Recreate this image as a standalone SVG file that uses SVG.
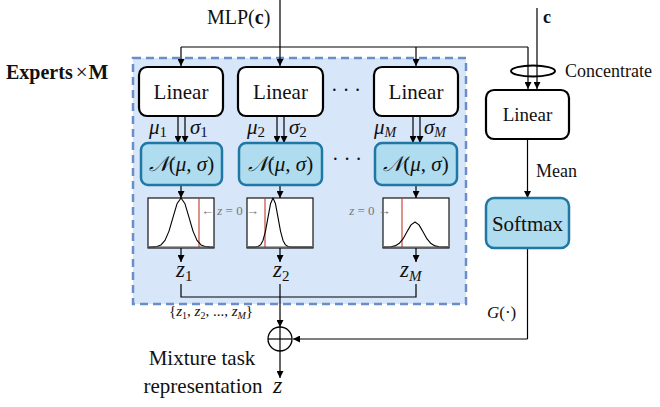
<svg xmlns="http://www.w3.org/2000/svg" width="660" height="407" viewBox="0 0 660 407">
<defs>
<marker id="ah" viewBox="0 0 10 10" refX="10" refY="5" markerWidth="7" markerHeight="7" markerUnits="userSpaceOnUse" orient="auto">
<path d="M0,0 L10,5 L0,10 z" fill="#000"/>
</marker>
<style>
.t{font-family:"Liberation Serif","Times New Roman",serif;fill:#111}
.m{font-family:"Liberation Serif","Times New Roman",serif;font-style:italic;fill:#111}
.lin{fill:#fff;stroke:#000;stroke-width:2.2}
.nb{fill:#afdcee;stroke:#1f77a3;stroke-width:2.5}
.c{fill:none;stroke:#000;stroke-width:1.2}
.a{fill:none;stroke:#000;stroke-width:1.2;marker-end:url(#ah)}
.pl{fill:#fff;stroke:#000;stroke-width:1.1}
.g{fill:none;stroke:#000;stroke-width:1.1;stroke-linejoin:round}
.red{stroke:#c0392b;stroke-width:1.1}
.gl{font-family:"Liberation Serif","Times New Roman",serif;fill:#777;font-size:13px}
</style>
</defs>

<g id="experts-panel">
<rect x="133" y="58" width="333" height="246" fill="#d7e6f8" stroke="#6a8fc8" stroke-width="2.5" stroke-dasharray="8,5"/>
<text class="t" x="6" y="79" font-size="20" font-weight="bold">Experts<tspan dx="3" font-weight="normal" font-size="21">×</tspan><tspan dx="1" font-size="21">M</tspan></text>
</g>

<g id="connectors">
<line class="c" x1="280" y1="0" x2="280" y2="47"/>
<path class="c" d="M181,47 H528"/>
<line class="a" x1="181" y1="47" x2="181" y2="66"/>
<line class="a" x1="280" y1="47" x2="280" y2="66"/>
<line class="a" x1="416" y1="47" x2="416" y2="66"/>
<line class="a" x1="528" y1="47" x2="528" y2="89"/>
<line class="a" x1="537" y1="8" x2="537" y2="89"/>
<line class="a" x1="178" y1="117" x2="178" y2="143"/>
<line class="a" x1="185" y1="117" x2="185" y2="143"/>
<line class="a" x1="277" y1="117" x2="277" y2="143"/>
<line class="a" x1="284" y1="117" x2="284" y2="143"/>
<line class="a" x1="413" y1="117" x2="413" y2="143"/>
<line class="a" x1="420" y1="117" x2="420" y2="143"/>
<line class="a" x1="181" y1="186" x2="181" y2="198"/>
<line class="a" x1="280" y1="186" x2="280" y2="198"/>
<line class="a" x1="416" y1="186" x2="416" y2="198"/>
<line class="a" x1="181" y1="248" x2="181" y2="262"/>
<line class="a" x1="280" y1="248" x2="280" y2="262"/>
<line class="a" x1="416" y1="248" x2="416" y2="262"/>
<path class="c" d="M181,284 V297 H416 V284"/>
<line class="a" x1="280" y1="284" x2="280" y2="327"/>
<line class="a" x1="280" y1="351" x2="280" y2="378"/>
<line class="a" x1="527.5" y1="139" x2="527.5" y2="198"/>
<path class="c" d="M527.5,248 V339"/>
<line class="a" x1="527.5" y1="339" x2="293" y2="339"/>
</g>

<g id="concentrate">
<ellipse cx="533" cy="71" rx="22" ry="5.5" fill="none" stroke="#000" stroke-width="2"/>
<text class="t" x="565" y="77" font-size="18">Concentrate</text>
<text class="t" x="543" y="23" font-size="18" font-weight="bold">c</text>
</g>

<g id="mlp-label"><text class="t" x="207" y="24" font-size="20">MLP(<tspan font-weight="bold">c</tspan>)</text></g>

<g id="linear1"><rect class="lin" x="139" y="67" width="84" height="49" rx="8"/><text class="t" x="181" y="99" font-size="21" text-anchor="middle">Linear</text></g>
<g id="linear2"><rect class="lin" x="238" y="67" width="85" height="49" rx="8"/><text class="t" x="280.5" y="99" font-size="21" text-anchor="middle">Linear</text></g>
<g id="linearM"><rect class="lin" x="374" y="67" width="84" height="49" rx="8"/><text class="t" x="416" y="99" font-size="21" text-anchor="middle">Linear</text></g>
<g id="dots1"><text class="t" x="346" y="97" font-size="20" text-anchor="middle">· · ·</text></g>

<g id="musigma">
<text class="m" x="149" y="134" font-size="21">μ<tspan font-style="normal" font-size="15" dy="3">1</tspan></text>
<text class="m" x="190" y="134" font-size="21">σ<tspan font-style="normal" font-size="15" dy="3">1</tspan></text>
<text class="m" x="247" y="134" font-size="21">μ<tspan font-style="normal" font-size="15" dy="3">2</tspan></text>
<text class="m" x="289" y="134" font-size="21">σ<tspan font-style="normal" font-size="15" dy="3">2</tspan></text>
<text class="m" x="374" y="134" font-size="21">μ<tspan font-size="14" dy="3">M</tspan></text>
<text class="m" x="424" y="134" font-size="21">σ<tspan font-size="14" dy="3">M</tspan></text>
</g>

<g id="normal1"><rect class="nb" x="141" y="143" width="81" height="42" rx="7"/><text class="m" x="181.5" y="171" font-size="21" text-anchor="middle">𝒩<tspan font-style="normal">(</tspan>μ<tspan font-style="normal">,</tspan> σ<tspan font-style="normal">)</tspan></text></g>
<g id="normal2"><rect class="nb" x="239" y="143" width="83" height="42" rx="7"/><text class="m" x="280.5" y="171" font-size="21" text-anchor="middle">𝒩<tspan font-style="normal">(</tspan>μ<tspan font-style="normal">,</tspan> σ<tspan font-style="normal">)</tspan></text></g>
<g id="normalM"><rect class="nb" x="375" y="143" width="82" height="42" rx="7"/><text class="m" x="416" y="171" font-size="21" text-anchor="middle">𝒩<tspan font-style="normal">(</tspan>μ<tspan font-style="normal">,</tspan> σ<tspan font-style="normal">)</tspan></text></g>
<g id="dots2"><text class="t" x="347" y="166" font-size="20" text-anchor="middle">· · ·</text></g>

<g id="plot1">
<rect class="pl" x="148" y="198" width="66" height="50"/>
<line class="red" x1="199" y1="198" x2="199" y2="248"/>
<polyline class="g" points="149,247 153,246.9 157,246.5 161,244.9 165,240.4 169,231.1 173,217.3 177,203.8 181,198 185,203.8 189,217.3 193,231.1 197,240.4 201,244.9 205,246.5 209,246.9 213,247"/>
<line x1="149" y1="247" x2="213" y2="247" stroke="#555" stroke-width="1.2"/>
</g>
<g id="plot2">
<rect class="pl" x="247" y="198" width="66" height="50"/>
<line class="red" x1="265" y1="198" x2="265" y2="248"/>
<polyline class="g" points="248,247 255.5,247 258,246.5 260.5,244.9 263,240.4 265.5,231.1 268,217.3 270.5,203.8 273,198 275.5,203.8 278,217.3 280.5,231.1 283,240.4 285.5,244.9 288,246.5 290.5,247 312,247"/>
<line x1="248" y1="247" x2="312" y2="247" stroke="#555" stroke-width="1.2"/>
</g>
<g id="plotM">
<rect class="pl" x="383" y="198" width="66" height="50"/>
<line class="red" x1="402" y1="198" x2="402" y2="248"/>
<polyline class="g" points="384,247 391,246.7 395,245.9 399,243.6 403,238.9 407,231.8 411,224.9 415,222 419,224.9 423,231.8 427,238.9 431,243.6 435,245.9 439,246.7 448,247"/>
<line x1="384" y1="247" x2="448" y2="247" stroke="#555" stroke-width="1.2"/>
</g>
<g id="zero-labels">
<text class="gl" x="230" y="215" text-anchor="middle">← <tspan font-style="italic">z</tspan> = 0 →</text>
<text class="gl" x="370" y="215" text-anchor="middle"><tspan font-style="italic">z</tspan> = 0 →</text>
</g>

<g id="z-labels">
<text class="m" x="176" y="277" font-size="23">z<tspan font-style="normal" font-size="15" dy="4">1</tspan></text>
<text class="m" x="273" y="277" font-size="23">z<tspan font-style="normal" font-size="15" dy="4">2</tspan></text>
<text class="m" x="400" y="277" font-size="23">z<tspan font-size="15" dy="4">M</tspan></text>
</g>

<g id="set-label"><text class="t" x="169" y="316" font-size="15" fill="#333">{<tspan font-style="italic">z</tspan><tspan font-size="10" dy="3">1</tspan><tspan dy="-3">, </tspan><tspan font-style="italic">z</tspan><tspan font-size="10" dy="3">2</tspan><tspan dy="-3">, ..., </tspan><tspan font-style="italic">z</tspan><tspan font-size="10" font-style="italic" dy="3">M</tspan><tspan dy="-3">}</tspan></text></g>

<g id="linear-gate"><rect class="lin" x="486" y="90" width="83" height="49" rx="8"/><text class="t" x="527.5" y="121" font-size="19" text-anchor="middle">Linear</text></g>
<g id="mean-label"><text class="t" x="536" y="177" font-size="18">Mean</text></g>
<g id="softmax"><rect class="nb" x="486" y="198" width="83" height="50" rx="8"/><text class="t" x="527.5" y="231" font-size="21" text-anchor="middle">Softmax</text></g>
<g id="g-label"><text class="m" x="487" y="318" font-size="17">G<tspan font-style="normal">(·)</tspan></text></g>

<g id="sum">
<circle cx="280" cy="339" r="12" fill="none" stroke="#000" stroke-width="1.3"/>
<line x1="268" y1="339" x2="292" y2="339" stroke="#000" stroke-width="1.2"/>
<line x1="280" y1="327" x2="280" y2="351" stroke="#000" stroke-width="1.2"/>
</g>

<g id="output-label">
<text class="t" x="202" y="365" font-size="21" text-anchor="middle">Mixture task</text>
<text class="t" x="203" y="393" font-size="21" text-anchor="middle">representation</text>
<text class="m" x="273" y="393" font-size="24">z</text>
</g>
</svg>
